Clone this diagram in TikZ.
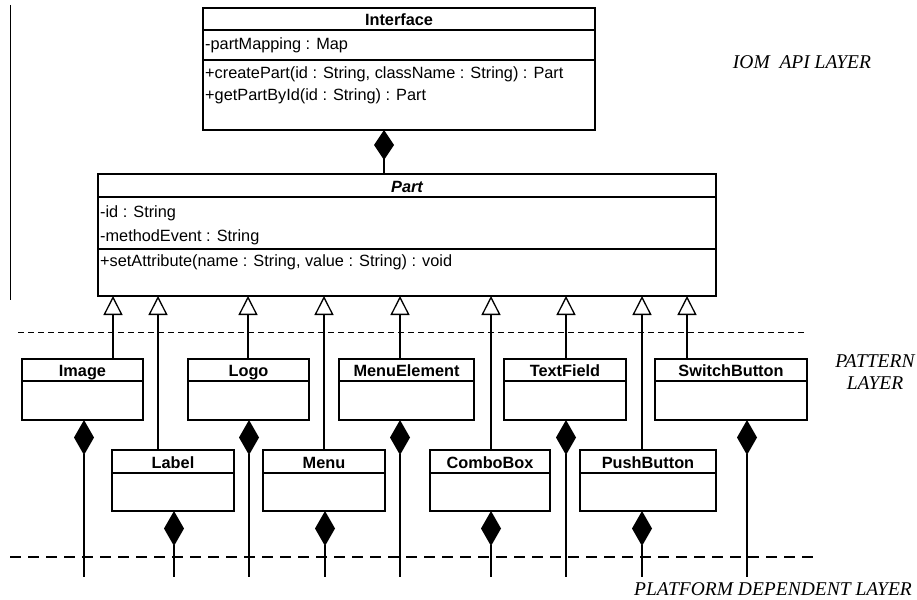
\documentclass[tikz,border=0pt]{standalone}
\usepackage{fontspec}
\setmainfont{Liberation Sans}
\newfontfamily\layerfont{Liberation Serif}
\usetikzlibrary{arrows.meta,positioning}

\begin{document}
\begin{tikzpicture}[
            x=1pt, y=-1pt,
            head/.style={
                draw,
                line width=1.3pt,
                inner sep=0pt,
                outer sep=0pt,
                anchor=north west,
                minimum height=22pt,
                text height=14.5pt,
                text depth=1.5pt,
                font=\fontsize{16.3}{19}\selectfont\bfseries
            },
            body/.style={
                draw,
                line width=1.3pt,
                inner sep=0pt,
                outer sep=0pt,
                anchor=north
            },
            member/.style={
                anchor=west,
                inner sep=0pt,
                font=\fontsize{16.3}{19}\selectfont
            },
            compose/.style={
                line width=1.3pt,
                {Diamond[length=35pt,width=20pt]}-
            },
            inherit/.style={
                line width=1.3pt,
                -{Triangle[open,fill=white,length=19pt,width=19pt,line width=1.3pt]}
            },
            layer/.style={
                align=center,
                inner sep=0pt,
                font=\layerfont\itshape\fontsize{19.5}{22}\selectfont
            }
        ]

            \useasboundingbox (0,0) rectangle (917,599);

            % API layer
            \node[head, minimum width=392pt] (iface) at (203,8) {Interface};
            \node[body, minimum width=392pt, minimum height=30pt] (iface-a) at (iface.south) {};
            \node[body, minimum width=392pt, minimum height=70pt] (iface-o) at (iface-a.south) {};
            \node[member] (iface-m1) at ([xshift=2pt]iface-a.west) {-partMapping : Map};
            \node[member] (iface-m2) at ([xshift=2pt,yshift=-14pt]iface-o.north west)
                {+createPart(id : String, className : String) : Part};
            \node[member] (iface-m3) at ([xshift=2pt,yshift=-36pt]iface-o.north west)
                {+getPartById(id : String) : Part};

            \node[head, minimum width=618pt, minimum height=23pt, font=\fontsize{16.3}{19}\selectfont\bfseries\itshape]
                (part) at (98,174) {Part};
            \node[body, minimum width=618pt, minimum height=52pt] (part-a) at (part.south) {};
            \node[body, minimum width=618pt, minimum height=47pt] (part-o) at (part-a.south) {};
            \node[member] (part-m1) at ([xshift=2pt,yshift=-16pt]part-a.north west) {-id : String};
            \node[member] (part-m2) at ([xshift=2pt,yshift=-40pt]part-a.north west) {-methodEvent : String};
            \node[member] (part-m3) at ([xshift=2pt,yshift=-13pt]part-o.north west)
                {+setAttribute(name : String, value : String) : void};

            \coordinate (c-part) at (384,174);
            \draw[compose, {Diamond[length=30pt,width=20pt]}-] (iface-o.south -| c-part) -- (c-part);

            % pattern layer
            \node[head, minimum width=121pt] (img) at (22,359) {Image};
            \node[body, minimum width=121pt, minimum height=39pt] (img-b) at (img.south) {};
            \node[head, minimum width=121pt] (logo) at (188,359) {Logo};
            \node[body, minimum width=121pt, minimum height=39pt] (logo-b) at (logo.south) {};
            \node[head, minimum width=135pt] (menuel) at (339,359) {MenuElement};
            \node[body, minimum width=135pt, minimum height=39pt] (menuel-b) at (menuel.south) {};
            \node[head, minimum width=122pt] (textf) at (504,359) {TextField};
            \node[body, minimum width=122pt, minimum height=39pt] (textf-b) at (textf.south) {};
            \node[head, minimum width=152pt] (switch) at (655,359) {SwitchButton};
            \node[body, minimum width=152pt, minimum height=39pt] (switch-b) at (switch.south) {};

            \node[head, minimum width=122pt, minimum height=23pt] (label) at (112,450) {Label};
            \node[body, minimum width=122pt, minimum height=38pt] (label-b) at (label.south) {};
            \node[head, minimum width=122pt, minimum height=23pt] (menu) at (263,450) {Menu};
            \node[body, minimum width=122pt, minimum height=38pt] (menu-b) at (menu.south) {};
            \node[head, minimum width=120pt, minimum height=23pt] (combo) at (430,450) {ComboBox};
            \node[body, minimum width=120pt, minimum height=38pt] (combo-b) at (combo.south) {};
            \node[head, minimum width=136pt, minimum height=23pt] (push) at (580,450) {PushButton};
            \node[body, minimum width=136pt, minimum height=38pt] (push-b) at (push.south) {};

            % generalizations
            \coordinate (g-img) at (113,296);
            \coordinate (g-label) at (158,296);
            \coordinate (g-logo) at (248,296);
            \coordinate (g-menu) at (324,296);
            \coordinate (g-menuel) at (400,296);
            \coordinate (g-combo) at (491,296);
            \coordinate (g-textf) at (566,296);
            \coordinate (g-push) at (642,296);
            \coordinate (g-switch) at (687,296);

            \draw[inherit] (img.north -| g-img) -- (g-img);
            \draw[inherit] (label.north -| g-label) -- (g-label);
            \draw[inherit] (logo.north -| g-logo) -- (g-logo);
            \draw[inherit] (menu.north -| g-menu) -- (g-menu);
            \draw[inherit] (menuel.north -| g-menuel) -- (g-menuel);
            \draw[inherit] (combo.north -| g-combo) -- (g-combo);
            \draw[inherit] (textf.north -| g-textf) -- (g-textf);
            \draw[inherit] (push.north -| g-push) -- (g-push);
            \draw[inherit] (switch.north -| g-switch) -- (g-switch);

            % compositions down to the platform layer
            \coordinate (p-img) at (84,577);
            \coordinate (p-label) at (174,577);
            \coordinate (p-logo) at (249,577);
            \coordinate (p-menu) at (325,577);
            \coordinate (p-menuel) at (400,577);
            \coordinate (p-combo) at (491,577);
            \coordinate (p-textf) at (566,577);
            \coordinate (p-push) at (642,577);
            \coordinate (p-switch) at (747,577);

            \draw[compose] (img-b.south -| p-img) -- (p-img);
            \draw[compose] (label-b.south -| p-label) -- (p-label);
            \draw[compose] (logo-b.south -| p-logo) -- (p-logo);
            \draw[compose] (menu-b.south -| p-menu) -- (p-menu);
            \draw[compose] (menuel-b.south -| p-menuel) -- (p-menuel);
            \draw[compose] (combo-b.south -| p-combo) -- (p-combo);
            \draw[compose] (textf-b.south -| p-textf) -- (p-textf);
            \draw[compose] (push-b.south -| p-push) -- (p-push);
            \draw[compose] (switch-b.south -| p-switch) -- (p-switch);

            % layer borders
            \coordinate (top-l) at (10,5);
            \coordinate (top-r) at (10,300);
            \draw[line width=1pt] (top-l) -- (top-r);
            \coordinate (mid-l) at (18,332);
            \coordinate (mid-r) at (807,332);
            \draw[line width=0.8pt, dash pattern=on 6pt off 4pt] (mid-l) -- (mid-r);
            \coordinate (low-l) at (10,557);
            \coordinate (low-r) at (815,557);
            \draw[line width=2pt, dash pattern=on 11pt off 7pt] (low-l) -- (low-r);

            \node[layer] (api) at (802,62) {IOM\ \ API LAYER};
            \node[layer] (pattern) at (875,372) {PATTERN\\LAYER};
            \node[layer] (platform) at (773,589) {PLATFORM DEPENDENT LAYER};

        \end{tikzpicture}
\end{document}
